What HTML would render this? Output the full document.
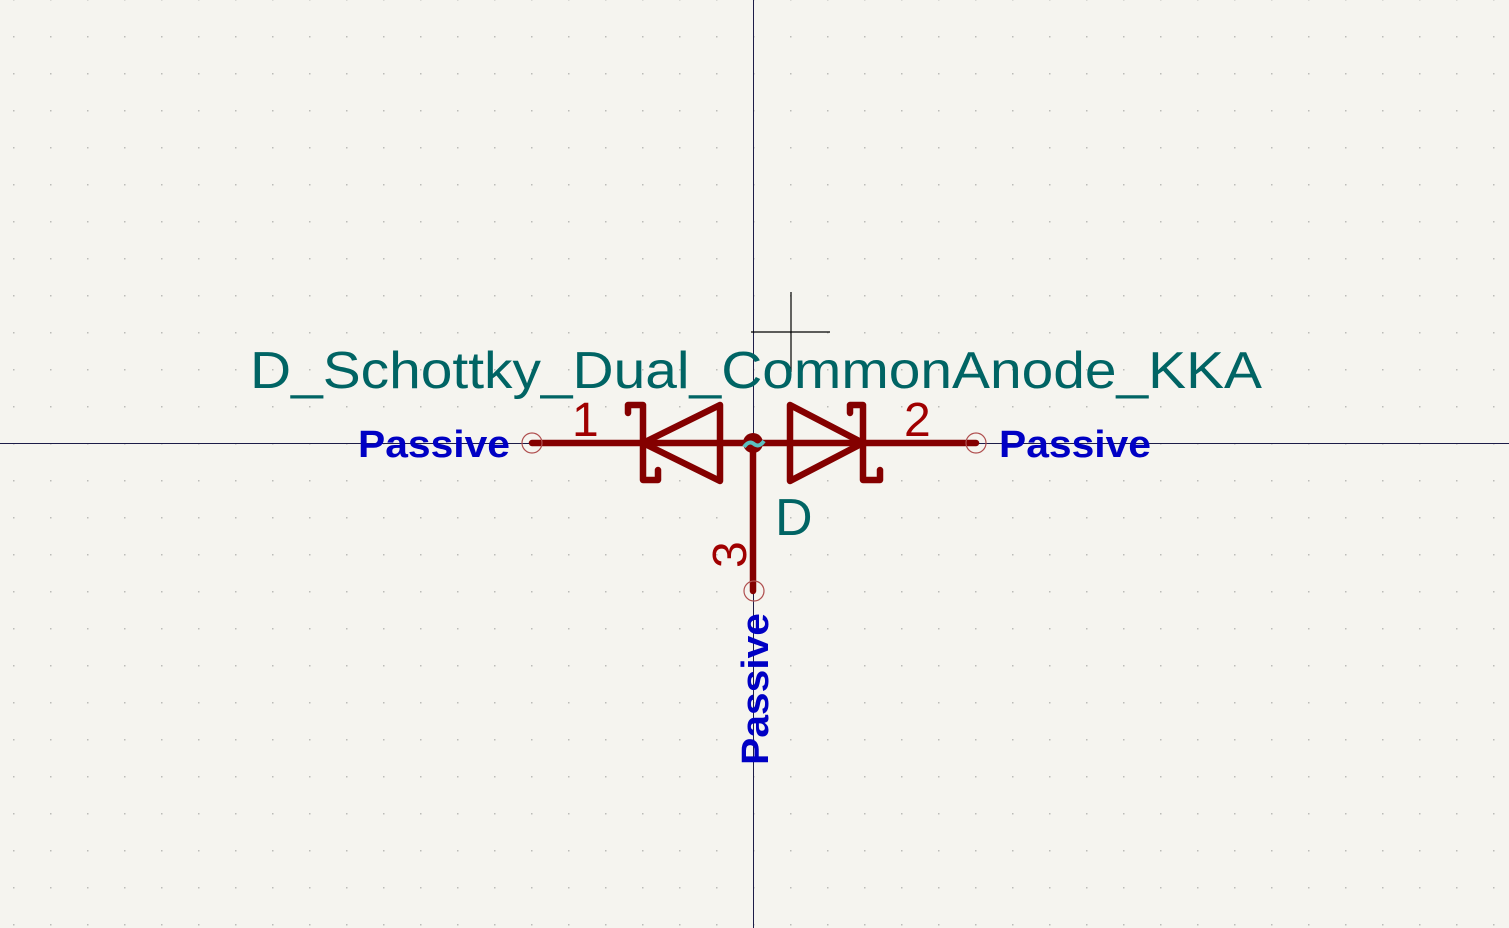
<!DOCTYPE html>
<html><head><meta charset="utf-8"><style>
html,body{margin:0;padding:0;background:#f5f4ef;}
svg{display:block;}
</style></head><body>
<svg width="1509" height="928" viewBox="0 0 1509 928">
<defs><pattern id="grid" x="753" y="443" width="37" height="37" patternUnits="userSpaceOnUse"><rect x="0" y="0" width="1.5" height="1.5" fill="#bcbcb8"/></pattern></defs>
<rect width="1509" height="928" fill="#f5f4ef"/>
<rect width="1509" height="928" fill="url(#grid)"/>
<line x1="753.5" y1="0" x2="753.5" y2="928" stroke="#1c1c48" stroke-width="1"/>
<line x1="0" y1="443.5" x2="1509" y2="443.5" stroke="#1c1c48" stroke-width="1"/>
<g stroke="#000" stroke-width="1.2">
<line x1="751" y1="332" x2="830" y2="332"/><line x1="791" y1="292" x2="791" y2="372"/></g>
<text x="250" y="388" font-family="Liberation Sans, sans-serif" font-size="52" fill="#006464" textLength="1012" lengthAdjust="spacingAndGlyphs">D_Schottky_Dual_CommonAnode_KKA</text>
<g stroke="#840000" stroke-width="6.5" fill="none" stroke-linejoin="round" stroke-linecap="round">
<line x1="532" y1="443" x2="976" y2="443"/>
<line x1="753" y1="443" x2="753" y2="591"/>
<polygon points="643,443 720,405 720,481"/>
<polyline points="628,413 628,405 643,405 643,480 658,480 658,470"/>
<polygon points="863,443 790,405 790,481"/>
<polyline points="850,413 850,405 863,405 863,480 880,480 880,470"/>
</g>
<circle cx="753" cy="443" r="10" fill="#840000"/>
<path d="M744,447 q5,-7 10,-3 q5,4 10,-3" stroke="#5cc0c0" stroke-width="4" fill="none"/>
<g stroke="#b05050" stroke-width="1.2" fill="none">
<circle cx="532" cy="443" r="10"/>
<circle cx="976" cy="443" r="10"/>
<circle cx="754" cy="591" r="10"/>
</g>
<g font-family="Liberation Sans, sans-serif" fill="#a00000" font-size="48">
<text x="572" y="436">1</text>
<text x="904" y="436">2</text>
<text transform="translate(746,568) rotate(-90)">3</text>
</g>
<text x="775" y="535" font-family="Liberation Sans, sans-serif" font-size="52" fill="#006464">D</text>
<g font-family="Liberation Sans, sans-serif" font-weight="bold" fill="#0000c4" font-size="38">
<text x="358" y="457" textLength="152" lengthAdjust="spacingAndGlyphs">Passive</text>
<text x="999" y="457" textLength="152" lengthAdjust="spacingAndGlyphs">Passive</text>
<text transform="translate(768,765) rotate(-90)" textLength="152" lengthAdjust="spacingAndGlyphs">Passive</text>
</g>
</svg>
</body></html>
